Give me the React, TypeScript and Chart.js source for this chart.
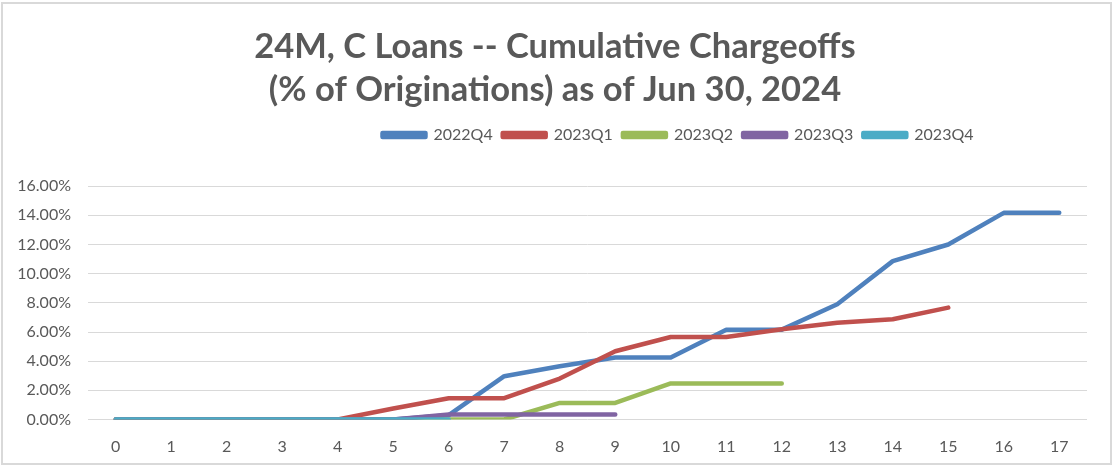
import React, { useEffect, useRef } from "react";
import { Chart, registerables } from "chart.js";

Chart.register(...registerables);

const months = ["0","1","2","3","4","5","6","7","8","9","10","11","12","13","14","15","16","17"];
const seriesNames = ["2022Q4", "2023Q1", "2023Q2", "2023Q3", "2023Q4"];
const s2022Q4 = [0, 0, 0, 0, 0, 0, 0.3, 2.97, 3.65, 4.25, 4.25, 6.16, 6.16, 7.9, 10.86, 12.0, 14.17, 14.17];
const s2023Q1 = [0, 0, 0, 0, 0, 0.75, 1.46, 1.46, 2.81, 4.68, 5.66, 5.66, 6.19, 6.64, 6.87, 7.67, null, null];
const s2023Q2 = [0, 0, 0, 0, 0, 0, 0, 0, 1.14, 1.14, 2.47, 2.47, 2.47, null, null, null, null, null];
const s2023Q3 = [0, 0, 0, 0, 0, 0, 0.34, 0.34, 0.34, 0.34, null, null, null, null, null, null, null, null];
const s2023Q4 = [0, 0, 0, 0, 0, 0, 0, null, null, null, null, null, null, null, null, null, null, null];
const seriesColors = ["#4F81BD", "#C0504D", "#9BBB59", "#8064A2", "#4BACC6"];
const titleLines = ["24M, C Loans -- Cumulative Chargeoffs", "(% of Originations) as of Jun 30, 2024"];

const FONT = "Lato, 'Open Sans', sans-serif";
const TEXT = "#595959";
const LEGEND_GAP = 33.2;
const LEGEND_CENTER = 678;
const TITLE_CENTER = 555;

const layoutTweaks = {
  id: "layoutTweaks",
  beforeLayout(chart: any) {
    const legend = chart.legend;
    if (legend && !legend.__patched) {
      legend.__patched = true;
      const fit = legend.fit.bind(legend);
      legend.fit = () => {
        fit();
        legend.height += LEGEND_GAP;
      };
    }
  },
  afterLayout(chart: any) {
    const legend = chart.legend;
    if (legend) {
      const shift = LEGEND_CENTER - (legend.left + legend.right) / 2;
      legend.left += shift;
      legend.right += shift;
    }
    const title = chart.titleBlock;
    if (title) {
      const shift = TITLE_CENTER - (title.left + title.right) / 2;
      title.left += shift;
      title.right += shift;
    }
  },
};

export default function App() {
  const ref = useRef<HTMLCanvasElement | null>(null);
  useEffect(() => {
    if (!ref.current) return;
    const all = [s2022Q4, s2023Q1, s2023Q2, s2023Q3, s2023Q4];
    const chart = new Chart(ref.current, {
      type: "line",
      data: {
        labels: months,
        datasets: all.map((d, i) => ({
          label: seriesNames[i],
          data: d,
          borderColor: seriesColors[i],
          backgroundColor: seriesColors[i],
          borderWidth: 4.5,
          pointRadius: 0,
          pointHoverRadius: 0,
          tension: 0,
          borderCapStyle: "round" as const,
          borderJoinStyle: "round" as const,
          spanGaps: false,
          order: all.length - i,
        })),
      },
      options: {
        animation: false,
        responsive: false,
        maintainAspectRatio: false,
        layout: { padding: { top: 0, left: 0, right: 27, bottom: 0 } },
        plugins: {
          title: {
            display: true,
            text: titleLines,
            color: TEXT,
            font: { family: FONT, size: 34.5, weight: "bold", lineHeight: 1.246 },
            padding: { top: 25, bottom: 6 },
          },
          legend: {
            display: true,
            position: "top",
            labels: {
              boxWidth: 43,
              boxHeight: 4,
              padding: 10,
              color: TEXT,
              font: { family: FONT, size: 16 },
              sort: (a: any, b: any) => a.datasetIndex - b.datasetIndex,
            },
          },
          tooltip: { enabled: false },
        },
        scales: {
          x: {
            type: "category",
            offset: true,
            grid: { display: false, drawTicks: false },
            border: { display: false },
            ticks: { color: TEXT, font: { family: FONT, size: 16 }, padding: 17.5, maxRotation: 0, autoSkip: false },
            afterFit: (s: any) => { s.height = 49.5; },
          },
          y: {
            min: 0,
            max: 16,
            ticks: {
              stepSize: 2,
              color: TEXT,
              font: { family: FONT, size: 16 },
              padding: 17,
              callback: (v: any) => Number(v).toFixed(2) + "%",
            },
            grid: { color: "#d9d9d9", lineWidth: 1, drawTicks: false },
            border: { display: false },
            afterFit: (s: any) => { s.width = 88; },
          },
        },
      },
      plugins: [layoutTweaks],
    });
    return () => chart.destroy();
  }, []);

  return (
    <div style={{ position: "fixed", left: 0, top: 0, width: 1114, height: 469, background: "#fff" }}>
      <div
        style={{
          position: "absolute",
          left: 1,
          top: 2,
          width: 1111,
          height: 463,
          border: "2px solid #d9d9d9",
          boxSizing: "border-box",
        }}
      />
      <canvas ref={ref} width={1114} height={469} style={{ position: "absolute", left: 0, top: 0, display: "block" }} />
    </div>
  );
}
